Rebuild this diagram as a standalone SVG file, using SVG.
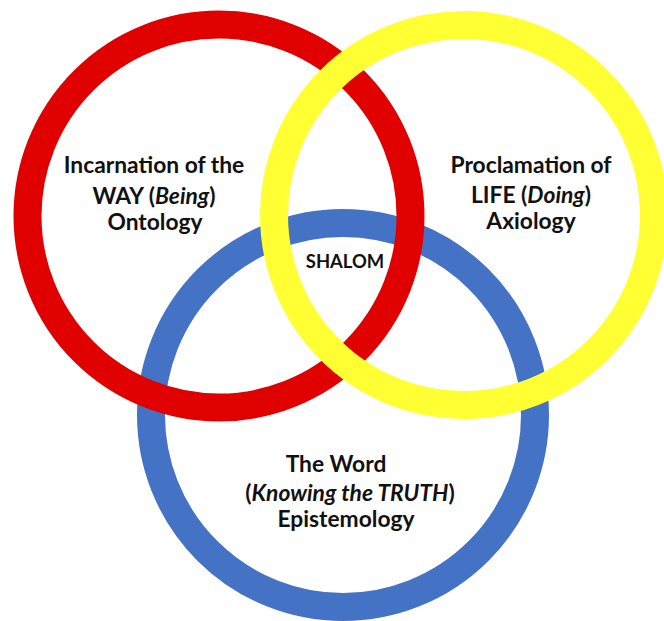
<svg xmlns="http://www.w3.org/2000/svg" width="664" height="621" viewBox="0 0 664 621">
  <style>
    .ring { fill: none; stroke-width: 28; }
    .lbl { font-family: Lato, "Liberation Sans", sans-serif; font-weight: bold; font-size: 22.8px; fill: #111; text-anchor: middle; }
    .sm { font-size: 18.4px; }
  </style>
  <rect width="664" height="621" fill="#ffffff"/>
  <!-- rings, back to front -->
  <g id="word">
    <circle class="ring" cx="343" cy="415" r="192" stroke="#4472C4"/>
  </g>
  <g id="way">
    <circle class="ring" cx="219" cy="216" r="191.5" stroke="#E00000"/>
  </g>
  <g id="life">
    <circle class="ring" cx="464" cy="215" r="190" stroke="#FFFF33"/>
  </g>
  <!-- labels -->
  <g id="way-label">
    <text class="lbl" x="154" y="173">Incarnation of the</text>
    <text class="lbl" x="154" y="204">WAY (<tspan font-style="italic">Being</tspan>)</text>
    <text class="lbl" x="155" y="230">Ontology</text>
  </g>
  <g id="life-label">
    <text class="lbl" x="531" y="173">Proclamation of</text>
    <text class="lbl" x="531" y="203">LIFE (<tspan font-style="italic">Doing</tspan>)</text>
    <text class="lbl" x="531" y="229">Axiology</text>
  </g>
  <g id="word-label">
    <text class="lbl" x="336" y="472">The Word</text>
    <text class="lbl" x="350" y="501">(<tspan font-style="italic">Knowing the TRUTH</tspan>)</text>
    <text class="lbl" x="346" y="527">Epistemology</text>
  </g>
  <g id="shalom">
    <text class="lbl sm" x="345" y="268">SHALOM</text>
  </g>
</svg>
